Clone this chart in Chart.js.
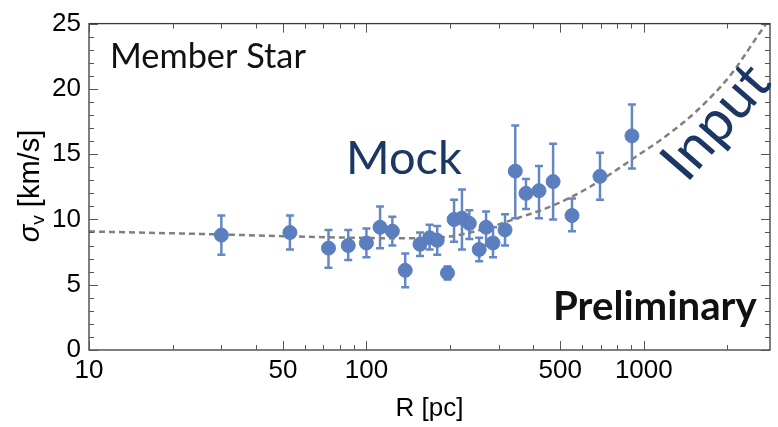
<!DOCTYPE html>
<html>
<head>
<meta charset="utf-8">
<script src="https://cdn.jsdelivr.net/npm/chart.js@4.4.1/dist/chart.umd.min.js"></script>
<style>body{margin:0;background:#fff;}</style>
</head>
<body>
<canvas id="sigma-chart" width="778" height="427"></canvas>
<script>
// mock member-star points
const radius   = [30, 53, 73, 86, 100, 112, 124, 138, 156, 169, 180, 196, 207, 221, 235, 255, 270, 286, 316, 344, 376, 419, 471, 551, 695, 906];
const sigma    = [8.8, 9.0, 7.8, 8.0, 8.2, 9.4, 9.1, 6.1, 8.1, 8.6, 8.4, 5.9, 10.0, 10.1, 9.7, 7.7, 9.4, 8.2, 9.2, 13.7, 12.0, 12.2, 12.9, 10.3, 13.3, 16.4];
const errHigh  = [10.3, 10.3, 9.2, 9.2, 9.3, 11.0, 10.2, 7.4, 9.0, 9.6, 9.5, 6.4, 11.5, 12.3, 10.7, 8.6, 10.6, 9.4, 10.4, 17.2, 13.1, 14.1, 15.8, 11.6, 15.1, 18.8];
const errLow   = [7.3, 7.7, 6.3, 6.9, 7.1, 7.8, 8.0, 4.8, 7.2, 7.7, 7.3, 5.4, 8.3, 7.7, 8.5, 6.8, 8.0, 7.1, 8.0, 10.1, 10.8, 10.1, 10.0, 9.1, 11.5, 13.9];

// input profile (dashed)
const inputR     = [10, 30, 50, 100, 150, 200, 258, 339, 450, 558, 711, 921, 1222, 1567, 2061, 2600, 2850];
const inputSigma = [9.08, 8.85, 8.72, 8.58, 8.55, 8.7, 9.2, 10.0, 10.9, 11.8, 13.1, 14.7, 16.5, 18.4, 21.1, 24.2, 25.4];

const xTickLabels = [10, 50, 100, 500, 1000];
const yTickLabels = [0, 5, 10, 15, 20, 25];

const axisFont = 'Liberation Sans, Arial, sans-serif';
const noteFont = 'Lato, Open Sans, sans-serif';

function fitFont(ctx, text, weight, family, width) {
  ctx.font = weight + ' 100px ' + family;
  const size = 100 * width / ctx.measureText(text).width;
  ctx.font = weight + ' ' + size.toFixed(1) + 'px ' + family;
}

const framePlugin = {
  id: 'frameAndBars',
  beforeDatasetsDraw(chart) {
    const {ctx} = chart;
    const xs = chart.scales.x, ys = chart.scales.y;
    ctx.save();
    ctx.strokeStyle = '#6588c4';
    ctx.lineWidth = 2.5;
    for (let i = 0; i < radius.length; i++) {
      const px = xs.getPixelForValue(radius[i]);
      const top = ys.getPixelForValue(errHigh[i]);
      const bot = ys.getPixelForValue(errLow[i]);
      ctx.beginPath();
      ctx.moveTo(px, top); ctx.lineTo(px, bot);
      ctx.moveTo(px - 4, top); ctx.lineTo(px + 4, top);
      ctx.moveTo(px - 4, bot); ctx.lineTo(px + 4, bot);
      ctx.stroke();
    }
    ctx.restore();
  },
  afterDraw(chart) {
    const {ctx, chartArea: a} = chart;
    const xs = chart.scales.x, ys = chart.scales.y;
    ctx.save();
    // frame
    ctx.strokeStyle = '#3a3a3a';
    ctx.lineWidth = 1.3;
    ctx.strokeRect(a.left, a.top, a.right - a.left, a.bottom - a.top);
    // ticks, pointing inward on all four sides
    ctx.lineWidth = 1;
    ctx.strokeStyle = '#555';
    ctx.beginPath();
    for (let d = 10; d <= 1000; d *= 10) {
      for (let m = 1; m < 10; m++) {
        const v = d * m;
        if (v > xs.max) break;
        const px = Math.round(xs.getPixelForValue(v)) + 0.5;
        const len = (m === 1 || m === 5) ? 9 : 5;
        ctx.moveTo(px, a.bottom); ctx.lineTo(px, a.bottom - len);
        ctx.moveTo(px, a.top); ctx.lineTo(px, a.top + len);
      }
    }
    for (let v = 0; v <= 25; v++) {
      const py = Math.round(ys.getPixelForValue(v)) + 0.5;
      const len = v % 5 === 0 ? 9 : 5;
      ctx.moveTo(a.left, py); ctx.lineTo(a.left + len, py);
      ctx.moveTo(a.right, py); ctx.lineTo(a.right - len, py);
    }
    ctx.stroke();

    // y axis title: sigma_v [km/s]
    ctx.save();
    ctx.translate(31, 186);
    ctx.rotate(-Math.PI / 2);
    ctx.fillStyle = '#000';
    ctx.textBaseline = 'middle';
    ctx.font = 'italic 29px ' + axisFont;
    const wS = ctx.measureText('σ').width;
    ctx.font = '19px ' + axisFont;
    const wV = ctx.measureText('v').width;
    ctx.font = '29px ' + axisFont;
    const wK = ctx.measureText(' [km/s]').width;
    const x0 = -(wS + wV + wK) / 2;
    ctx.font = 'italic 29px ' + axisFont;
    ctx.fillText('σ', x0, 0);
    ctx.font = '19px ' + axisFont;
    ctx.fillText('v', x0 + wS, 8);
    ctx.font = '29px ' + axisFont;
    ctx.fillText(' [km/s]', x0 + wS + wV, 0);
    ctx.restore();

    // annotations
    ctx.textBaseline = 'alphabetic';
    ctx.textAlign = 'left';
    ctx.fillStyle = '#111';
    fitFont(ctx, 'Member Star', 'normal', noteFont, 196);
    ctx.fillText('Member Star', 110, 68);

    ctx.fillStyle = '#1c3763';
    fitFont(ctx, 'Mock', 'normal', noteFont, 116);
    ctx.fillText('Mock', 346, 174);

    ctx.save();
    ctx.translate(716, 122);
    ctx.rotate(-49 * Math.PI / 180);
    fitFont(ctx, 'Input', 'normal', noteFont, 132);
    ctx.textAlign = 'center';
    ctx.textBaseline = 'middle';
    ctx.fillText('Input', 0, 0);
    ctx.restore();

    ctx.fillStyle = '#111';
    fitFont(ctx, 'Preliminary', 'bold', noteFont, 204);
    ctx.fillText('Preliminary', 553, 320);
    ctx.restore();
  }
};

const config = {
  type: 'scatter',
  data: {
    datasets: [{
      label: 'Input',
      data: inputR.map((r, i) => ({x: r, y: inputSigma[i]})),
      showLine: true,
      borderColor: '#808080',
      borderWidth: 2.5,
      borderDash: [6, 4],
      pointRadius: 0,
      cubicInterpolationMode: 'monotone',
      order: 2
    }, {
      label: 'Mock',
      data: radius.map((r, i) => ({x: r, y: sigma[i]})),
      backgroundColor: '#5a7ebe',
      borderColor: '#5a7ebe',
      pointRadius: 7,
      pointHoverRadius: 7,
      order: 1
    }]
  },
  options: {
    responsive: false,
    animation: false,
    devicePixelRatio: 1,
    layout: { padding: { top: 18, right: 2, left: 0, bottom: 0 } },
    plugins: {
      legend: { display: false },
      tooltip: { enabled: false }
    },
    scales: {
      x: {
        type: 'logarithmic',
        min: 10,
        max: 2850,
        afterBuildTicks: (s) => { s.ticks = xTickLabels.map(v => ({value: v})); },
        afterFit: (s) => { s.height = 77; },
        grid: { display: false, drawTicks: false },
        border: { display: false },
        ticks: {
          color: '#000',
          padding: 5,
          maxRotation: 0,
          autoSkip: false,
          font: { family: axisFont, size: 26 },
          callback: (v) => String(v)
        },
        title: {
          display: true,
          text: 'R [pc]',
          color: '#000',
          font: { family: axisFont, size: 26 },
          padding: { top: 0, bottom: 3 }
        }
      },
      y: {
        min: 0,
        max: 25,
        afterBuildTicks: (s) => { s.ticks = yTickLabels.map(v => ({value: v})); },
        afterFit: (s) => { s.width = 89; },
        grid: { display: false, drawTicks: false },
        border: { display: false },
        ticks: {
          color: '#000',
          padding: 8,
          font: { family: axisFont, size: 26 }
        }
      }
    }
  },
  plugins: [framePlugin]
};

window.onload = function() {
  const ctx = document.getElementById('sigma-chart').getContext('2d');
  window.sigmaChart = new Chart(ctx, config);
};
</script>
</body>
</html>
